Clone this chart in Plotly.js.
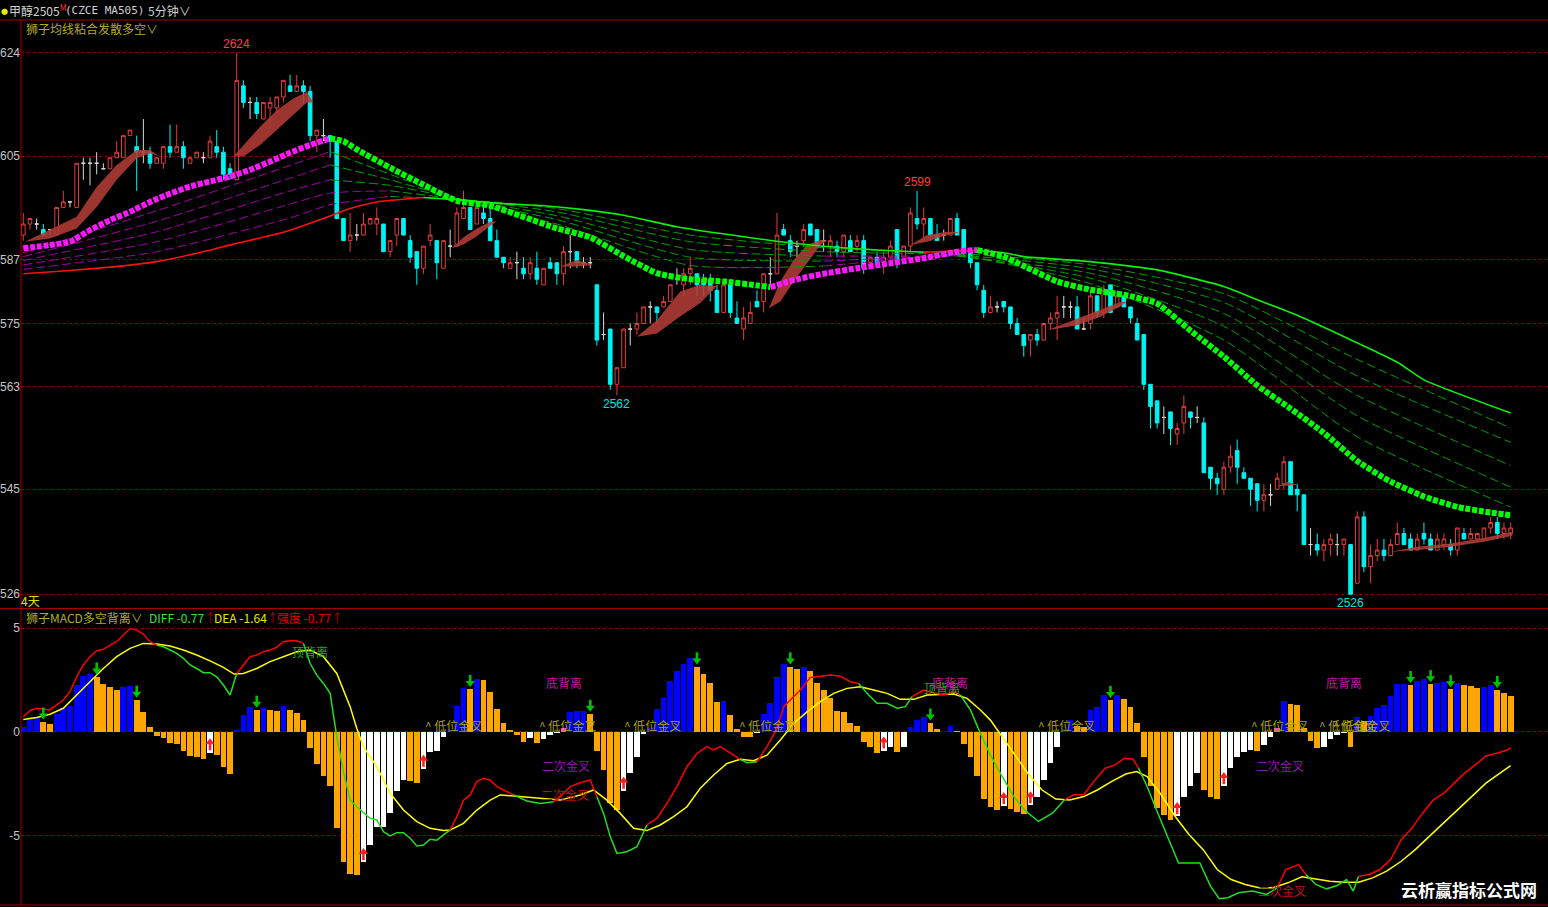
<!DOCTYPE html>
<html><head><meta charset="utf-8">
<script src="https://cdn.plot.ly/plotly-3.0.1.min.js"></script>
<style>html,body{margin:0;padding:0;background:#000;overflow:hidden}#chart{width:1548px;height:907px}</style>
</head><body><div id="chart"></div>
<script>
// ---------------- price data (5-minute candles, index 0..223) ----------------
const candleOpen = [
2591,2593,2593,2592,2592,2591,2596,2597,2596,2604,
2604,2604,2603,2603,2605,2605,2609,2607,2606,2606,
2604,2604,2607,2606,2607,2604,2605,2605,2605,2607,
2606,2603,2601,2618,2615,2615,2612,2614,2614,2616,
2618,2617,2618,2617,2609,2609,2609,2608,2594,2590,
2591,2591,2593,2593,2593,2588,2591,2594,2590,2588,
2585,2590,2590,2585,2589,2589,2594,2596,2593,2595,
2594,2590,2587,2585,2586,2585,2584,2585,2582,2586,
2586,2584,2588,2588,2586,2586,2582,2573,2574,2564,
2567,2574,2574,2575,2578,2578,2578,2579,2583,2582,
2584,2584,2583,2583,2581,2577,2582,2576,2574,2575,
2579,2579,2584,2584,2592,2590,2589,2590,2593,2592,
2590,2589,2589,2588,2590,2589,2590,2586,2587,2586,
2587,2592,2587,2589,2594,2593,2594,2591,2591,2591,
2594,2592,2588,2586,2581,2577,2578,2579,2578,2575,
2573,2572,2573,2572,2575,2576,2578,2578,2578,2574,
2575,2580,2577,2582,2578,2580,2578,2575,2573,2564,
2561,2558,2559,2555,2557,2559,2558,2557,2549,2547,
2545,2549,2552,2548,2547,2546,2543,2544,2545,2546,
2550,2545,2544,2535,2535,2534,2535,2535,2535,2535,
2528,2540,2531,2533,2534,2533,2535,2537,2536,2534,
2537,2536,2534,2535,2535,2534,2537,2536,2536,2536,
2538,2539,2537,2537];
const candleHigh = [
2595,2594,2594,2593,2592,2596,2599,2597,2604,2605,
2605,2606,2604,2605,2608,2609,2610,2609,2612,2607,
2605,2607,2611,2611,2608,2605,2606,2606,2609,2610,
2607,2604,2624,2619,2616,2616,2615,2616,2616,2619,
2620,2620,2619,2618,2610,2612,2609,2608,2594,2595,
2593,2595,2594,2596,2593,2590,2594,2594,2591,2588,
2589,2593,2590,2590,2592,2596,2599,2596,2597,2596,
2596,2592,2587,2587,2588,2587,2587,2588,2585,2587,
2586,2589,2591,2588,2587,2587,2582,2577,2574,2567,
2574,2575,2577,2578,2579,2578,2580,2582,2585,2585,
2587,2584,2584,2584,2582,2582,2582,2579,2578,2579,
2581,2584,2587,2595,2593,2591,2590,2593,2593,2592,
2592,2591,2590,2591,2591,2591,2591,2587,2588,2588,
2590,2592,2589,2596,2599,2596,2594,2593,2592,2594,
2595,2592,2588,2586,2582,2580,2579,2579,2578,2576,
2573,2573,2574,2575,2577,2580,2580,2579,2580,2576,
2581,2580,2582,2582,2581,2580,2578,2576,2573,2564,
2561,2560,2559,2557,2562,2559,2560,2558,2549,2548,
2550,2553,2554,2549,2547,2546,2546,2546,2548,2551,
2550,2546,2544,2538,2537,2536,2537,2537,2536,2535,
2541,2541,2535,2536,2536,2536,2539,2538,2537,2537,
2539,2537,2537,2537,2536,2538,2538,2538,2537,2538,
2540,2540,2539,2539];
const candleLow = [
2590,2592,2592,2591,2591,2591,2596,2596,2596,2601,
2600,2602,2603,2603,2605,2605,2609,2599,2604,2603,
2604,2603,2605,2606,2603,2604,2605,2604,2605,2605,
2601,2601,2601,2614,2612,2612,2612,2611,2613,2615,
2617,2617,2615,2608,2606,2608,2605,2594,2590,2588,
2590,2591,2593,2591,2588,2587,2589,2591,2586,2582,
2584,2589,2583,2585,2587,2589,2594,2592,2593,2593,
2590,2587,2585,2585,2583,2583,2583,2582,2582,2585,
2582,2582,2585,2585,2585,2585,2571,2572,2563,2562,
2567,2571,2573,2575,2575,2575,2578,2579,2582,2580,
2582,2580,2580,2579,2577,2577,2576,2575,2572,2575,
2578,2577,2582,2584,2591,2587,2587,2589,2591,2589,
2588,2587,2587,2587,2588,2588,2584,2586,2585,2584,
2587,2585,2587,2588,2592,2590,2590,2590,2590,2591,
2591,2587,2585,2581,2576,2577,2577,2577,2574,2573,
2569,2569,2571,2572,2574,2572,2576,2576,2574,2574,
2574,2576,2576,2577,2578,2578,2575,2572,2563,2556,
2556,2555,2553,2553,2555,2556,2557,2548,2545,2544,
2544,2548,2546,2547,2542,2541,2541,2542,2545,2545,
2544,2541,2535,2533,2533,2532,2533,2533,2533,2526,
2528,2530,2528,2532,2532,2533,2535,2535,2534,2534,
2535,2534,2534,2534,2533,2533,2536,2536,2536,2536,
2537,2536,2536,2536];
const candleClose = [
2593,2594,2593,2591,2592,2596,2597,2597,2604,2604,
2604,2604,2603,2605,2606,2609,2610,2606,2606,2604,
2605,2607,2606,2607,2605,2605,2606,2605,2608,2606,
2602,2602,2619,2615,2615,2613,2615,2615,2616,2619,
2617,2618,2617,2609,2610,2609,2608,2594,2590,2591,
2591,2593,2594,2594,2588,2590,2594,2591,2587,2585,
2589,2591,2586,2590,2589,2595,2596,2592,2596,2594,
2590,2587,2586,2586,2586,2584,2586,2583,2585,2585,
2584,2588,2588,2586,2586,2586,2572,2573,2564,2567,
2574,2574,2575,2578,2578,2577,2579,2582,2583,2584,
2585,2582,2582,2581,2577,2582,2577,2575,2576,2577,
2578,2584,2584,2591,2591,2588,2589,2592,2591,2589,
2590,2590,2588,2591,2588,2590,2585,2587,2586,2587,
2589,2586,2589,2595,2593,2594,2591,2590,2591,2594,
2591,2588,2586,2582,2577,2578,2578,2578,2575,2573,
2571,2573,2572,2575,2576,2577,2578,2578,2574,2574,
2580,2577,2581,2577,2580,2578,2576,2572,2564,2560,
2557,2558,2556,2556,2560,2558,2558,2548,2547,2546,
2549,2551,2549,2547,2545,2543,2544,2544,2547,2550,
2544,2544,2535,2535,2534,2535,2536,2535,2536,2526,
2540,2531,2533,2534,2533,2535,2537,2535,2534,2536,
2536,2534,2536,2536,2534,2538,2536,2537,2537,2538,
2539,2537,2538,2538];

// price-axis labels
const mainTickVals = [2624, 2605.3, 2586.6, 2575, 2563.6, 2545, 2526];
const mainTickText = ['2624', '2605', '2587', '2575', '2563', '2545', '2526'];

// ---------------- moving-average ribbon (read at anchor candles) ----------------
const thickX = [0,4,7,10,13,16,19,22,25,28,31,34,37,40,43,46,48,50,55,60,65,70,75,80,85,90,95,100,105,110,112,116,120,125,130,135,140,143,147,150,155,160,165,170,175,180,185,190,195,200,205,210,215,220,223];
const thickY = [2588.6,2589.2,2589.8,2591.9,2593.7,2595.2,2597.0,2598.5,2599.8,2600.7,2601.6,2602.8,2604.3,2605.9,2607.3,2608.5,2608.0,2606.5,2603.2,2600.1,2597.2,2596.3,2594.3,2592.2,2590.6,2587.2,2584.1,2583.0,2582.6,2581.9,2581.6,2583.0,2584.0,2585.0,2585.9,2586.8,2588.0,2588.3,2587.1,2585.4,2582.6,2581.1,2580.2,2578.6,2573.7,2569.0,2563.8,2559.6,2555.2,2550.1,2546.4,2543.7,2541.8,2540.8,2540.3];
const outerX = [0,7,13,20,26,32,39,45,49,53,60,66,72,78,84,90,98,108,118,128,135,139,143,147,150,160,170,180,185,191,206,210,223];
const outerY = [2584.0,2584.6,2585.2,2586.2,2587.7,2589.5,2591.5,2594.0,2595.8,2597.0,2597.8,2597.3,2596.7,2596.3,2595.6,2594.6,2592.5,2590.7,2589.2,2588.3,2587.9,2588.1,2588.2,2587.8,2587.1,2586.2,2584.7,2581.7,2579.3,2576.5,2568.0,2564.8,2558.8];
const ribbonX = [0,20,40,46,55,66,80,100,120,140,160,180,200,223];
const ribbon1 = [2587.8,2595.4,2603.6,2606.1,2602.0,2597.2,2593.0,2585.5,2585.4,2587.6,2582.2,2572.0,2554.5,2541.8];
const ribbon2 = [2587.1,2593.5,2601.3,2603.7,2601.0,2597.3,2593.8,2587.0,2586.3,2587.3,2583.2,2574.5,2558.3,2545.4];
const ribbon3 = [2586.4,2591.6,2599.0,2601.0,2600.0,2597.4,2594.5,2588.4,2587.2,2587.2,2584.1,2576.8,2562.0,2549.3];
const ribbon4 = [2585.6,2589.8,2596.6,2598.6,2599.0,2597.4,2595.2,2589.8,2588.0,2587.4,2584.9,2578.8,2565.5,2553.5];
const ribbon5 = [2584.8,2588.0,2594.1,2596.5,2598.0,2597.4,2595.8,2591.0,2588.7,2587.7,2585.6,2580.4,2568.5,2556.1];

// red bands between the two fast averages
const bandX = [
 [0.25,4,8,11,14,17,19,20.5],
 [31.5,33,35.5,38,40.5,42.5,43.5],
 [64.25,66,68,70,71],
 [80.5,83,85.5],
 [92,95,98.5,101.5,104],
 [111.75,113.5,115.5,117.5,119.5,120.5],
 [133,135.5,138.5,140.5],
 [153.5,158,161.5,164.5,165.5],
 [188,189.5,191],
 [205,209,214,219,223.25]];
const bandUp = [
 [2589.8,2592.0,2594.3,2599.7,2603.7,2606.4,2606.4,2605.2],
 [2605.2,2607.3,2610.6,2613.6,2615.7,2616.9,2615.0],
 [2588.6,2590.6,2592.2,2593.4,2593.5],
 [2585.3,2586.5,2585.6],
 [2572.6,2575.6,2580.8,2582.0,2581.8],
 [2577.7,2582.6,2586.5,2589.2,2590.1,2590.0],
 [2589.2,2591.0,2591.6,2591.5],
 [2573.8,2575.9,2577.4,2578.9,2579.0],
 [2545.5,2546.3,2545.8],
 [2533.7,2534.6,2535.2,2536.2,2537.3]];
const bandLo = [
 [2589.8,2590.4,2592.2,2596.1,2601.0,2604.9,2605.8,2605.2],
 [2605.2,2605.2,2607.3,2610.0,2612.7,2615.0,2615.0],
 [2588.6,2589.3,2590.8,2592.7,2593.5],
 [2585.3,2585.3,2585.6],
 [2572.6,2573.2,2576.3,2578.7,2581.8],
 [2577.7,2579.0,2582.6,2585.9,2589.2,2590.0],
 [2589.2,2589.8,2591.0,2591.5],
 [2573.8,2574.7,2576.2,2578.1,2579.0],
 [2545.5,2545.6,2545.8],
 [2533.7,2534.0,2534.6,2535.5,2536.6]];

// ---------------- MACD ----------------
const macdHist = [
0.24,0.69,0.72,0.48,0.37,0.84,1.13,1.24,2.25,2.70,
2.78,2.65,2.28,2.14,2.01,2.17,2.20,1.53,0.95,0.21,
-0.21,-0.29,-0.56,-0.59,-0.93,-1.16,-1.21,-1.33,-1.01,-1.13,
-1.69,-2.04,0.08,0.80,1.21,1.05,1.13,1.05,1.01,1.25,
1.05,0.92,0.56,-0.80,-1.56,-2.14,-2.60,-4.66,-6.30,-6.86,
-6.91,-6.30,-5.47,-4.61,-4.58,-3.91,-2.86,-2.33,-2.38,-2.49,
-1.80,-0.96,-0.93,-0.24,0.10,1.24,2.09,2.05,2.52,2.48,
1.93,1.08,0.43,0.08,-0.16,-0.48,-0.32,-0.53,-0.35,-0.16,
-0.08,0.20,0.97,1.00,1.02,0.85,-0.93,-1.85,-3.46,-3.78,
-2.86,-2.01,-1.21,-0.11,0.16,1.08,1.61,2.44,2.94,3.26,
3.54,3.14,2.78,2.33,1.45,1.48,0.80,0.11,-0.24,-0.27,
-0.08,0.85,1.40,2.62,3.26,3.14,3.01,3.14,2.94,2.36,
2.01,1.64,1.01,0.96,0.40,0.27,-0.51,-0.76,-1.05,-0.92,
-0.72,-1.00,-0.72,0.24,0.56,0.69,0.43,0.11,-0.03,0.27,
0.05,-0.59,-1.21,-2.12,-3.25,-3.65,-3.78,-3.60,-3.73,-3.85,
-3.96,-3.56,-3.16,-2.32,-1.52,-0.72,0.15,0.56,0.27,0.25,
1.07,1.20,1.76,1.52,1.79,1.60,1.20,0.40,-1.20,-2.60,
-3.69,-4.00,-4.25,-4.09,-3.13,-2.60,-2.00,-2.80,-3.13,-3.25,
-2.64,-1.73,-1.20,-0.96,-0.88,-0.93,-0.64,-0.27,0.20,1.47,
1.33,1.28,0.16,-0.45,-0.80,-0.75,-0.37,-0.16,-0.05,-0.72,
0.72,0.53,0.75,1.12,1.28,1.71,2.28,2.32,2.24,2.44,
2.52,2.28,2.36,2.38,2.04,2.36,2.24,2.20,2.13,2.16,
2.24,2.00,1.89,1.71];
const pinkBars = [81, 188];
const greenArrowIdx = [3,11,17,35,67,85,101,115,136,163,208,211,214,221];
const redArrowIdx = [28,51,60,90,129,147,151,173,180];

const diffX = [0,1,2,4,6,7,8,9,10,11,12,13,14,15,16,17,18,19,20,21,22,23,24,25,26,27,28,29,30,31,32,33,34,35,36,37,38,39,40,41,42,43,44,45,46,47,48,49,50,51,52,53,54,55,56,57,58,59,60,61,62,63,64,65,66,67,68,69,70,71,
73.5,75.5,77.5,79.5,80.75,82,83.5,85,86,87,88,89,90.5,92,93.5,95,96.5,98,99.5,101,102.5,103.5,104.5,106.5,107.5,108.5,110,111.5,113,114,115,116.5,118,119.5,121,122.5,124,125.25,126.5,128,129.5,131,132.25,133.25,135,136.5,138,139.5,140.5,142,143.5,145,146.5,148.5,150.1,152.2,154.3,156.1,157.5,159,160.3,162.2,163.7,165.1,166.4,167.2,168.5,170.1,171.7,173.2,174.8,176.4,178,179.3,180.6,182.2,184.3,186.4,188,189.3,191.2,192.3,193.8,195.4,197,198.4,199.4,200.2,201.8,203.4,205,206.6,208.2,209.8,211.4,213,214.5,216.1,217.7,219.3,220.9,222.5,223];
const diffY = [0.72,1.01,1.13,1.05,1.53,1.93,2.65,3.22,3.62,3.91,3.97,4.18,4.34,4.66,4.98,4.90,4.71,4.34,4.18,4.10,3.94,3.78,3.54,3.22,3.05,2.85,2.85,2.65,2.25,1.77,2.81,3.22,3.62,3.70,3.86,3.94,4.07,4.34,4.39,4.39,4.26,3.30,2.73,2.33,1.85,-0.24,-1.93,-3.30,-3.62,-3.91,-4.18,-4.26,-4.82,-5.03,-4.87,-4.87,-5.14,-5.51,-5.47,-5.19,-5.23,-4.98,-4.74,-4.10,-3.30,-3.05,-2.41,-2.25,-2.33,-2.65,
-3.05,-3.34,-3.46,-3.38,-3.05,-2.65,-2.46,-2.33,-3.14,-3.94,-5.06,-5.87,-5.79,-5.55,-4.50,-4.18,-3.46,-2.65,-1.69,-1.05,-0.72,-0.88,-0.72,-1.13,-1.33,-1.50,-1.45,-0.72,0.16,1.21,1.53,2.01,2.62,2.68,2.73,2.68,2.41,2.33,1.85,1.37,1.37,1.13,1.21,1.69,2.01,1.88,1.77,1.93,1.77,1.05,-0.08,-1.13,-2.01,-3.13,-3.77,-4.33,-3.93,-3.29,-3.04,-3.04,-2.48,-1.76,-1.60,-1.28,-1.33,-1.76,-2.64,-3.93,-5.21,-6.33,-6.33,-6.33,-7.45,-8.06,-8.01,-7.77,-7.69,-7.85,-7.53,-6.65,-6.41,-6.89,-7.37,-7.58,-7.42,-7.13,-7.69,-6.97,-6.89,-6.65,-6.17,-5.21,-4.65,-3.93,-3.29,-2.96,-2.48,-2.00,-1.60,-1.17,-1.04,-0.88,-0.77];
const deaX = [0,2,4,6,8,10,12,14,16,18,20,22,24,26,28,30,31.6,33,35,37,39,41,43,45,47,49,50,51,53,55,57,59,61,63,64,66,68,70,71.5,74.5,77.5,80.5,83.5,85.5,87.5,89.5,91.5,93.5,95.5,97.5,99.5,101.5,103.5,105.5,107.5,109.5,111.5,113.5,115.5,117.5,119.5,121.5,123.5,125.5,127.5,129.5,131.5,133.5,135.5,137.5,139.5,141.5,143.5,145,146.5,148.5,150.6,152.7,154.8,156.9,159,161.1,163.2,165.3,166.9,168.5,170.6,172.7,174.8,176.9,179,181.1,183.2,185.3,187.4,189.6,191.7,193.8,195.9,198,200.2,202.3,204.4,206.6,208.7,210.8,212.9,215,217.1,219.3,221.4,223];
const deaY = [0.59,0.69,0.84,1.13,1.77,2.41,3.05,3.62,4.02,4.26,4.23,4.13,3.94,3.70,3.42,3.10,2.78,2.81,3.05,3.38,3.62,3.86,3.94,3.62,2.81,1.21,0.16,-0.72,-1.69,-2.97,-3.78,-4.34,-4.66,-4.77,-4.74,-4.42,-3.78,-3.30,-3.05,-3.14,-3.22,-3.30,-3.05,-2.81,-3.30,-3.94,-4.66,-4.77,-4.50,-4.10,-3.62,-2.73,-2.09,-1.53,-1.33,-1.40,-1.13,-0.40,0.40,0.96,1.45,1.85,2.09,2.17,2.01,1.85,1.56,1.56,1.77,1.80,1.82,1.61,1.05,0.56,-0.15,-1.04,-2.00,-2.80,-3.25,-3.29,-3.13,-2.80,-2.40,-2.04,-1.92,-2.16,-3.04,-4.09,-4.97,-5.69,-6.65,-7.13,-7.37,-7.53,-7.53,-7.29,-7.00,-7.10,-7.21,-7.26,-7.26,-7.05,-6.73,-6.25,-5.69,-5.05,-4.41,-3.77,-3.13,-2.48,-2.00,-1.64];

// MACD panel text signals
const lowGoldX = [59.9, 77.0, 89.8, 107.0, 151.8, 183.8, 194.0, 196.1];
const macdLabelText = ['顶背离','顶背离','底背离','底背离','底背离','二次金叉','二次金叉','二次金叉','二次金叉'];
const macdLabelX = [43.0, 137.7, 81.1, 139.0, 198.0, 81.4, 188.4, 81.2, 188.7];
const macdLabelY = [3.89, 2.11, 2.35, 2.35, 2.35, -1.65, -1.65, -3.05, -7.64];
const macdLabelColor = ['#22a822','#22a822','#c0189c','#c0189c','#c0189c','#8a1ca8','#8a1ca8','#c01010','#c01010'];

// ---------------- build ----------------
const N = candleOpen.length;
const traces = [];

function segByDir(xs, ys) {
  const segs = []; let cur = null;
  for (let k = 1; k < xs.length; k++) {
    const rising = ys[k] >= ys[k-1];
    if (!cur || cur.rising !== rising) { cur = {rising, x:[xs[k-1]], y:[ys[k-1]]}; segs.push(cur); }
    cur.x.push(xs[k]); cur.y.push(ys[k]);
  }
  return segs;
}
function interp(xs, ys, x) {
  if (x <= xs[0]) return ys[0];
  for (let k = 1; k < xs.length; k++) {
    if (x <= xs[k]) { const t = (x - xs[k-1]) / (xs[k] - xs[k-1]); return ys[k-1] + t * (ys[k] - ys[k-1]); }
  }
  return ys[ys.length-1];
}

// red bands
{
  const bx = [], by = [];
  for (let b = 0; b < bandX.length; b++) {
    const xs = bandX[b], up = bandUp[b], lo = bandLo[b];
    for (let k = 0; k < xs.length; k++) { bx.push(xs[k]); by.push(up[k]); }
    for (let k = xs.length - 1; k >= 0; k--) { bx.push(xs[k]); by.push(lo[k]); }
    bx.push(null); by.push(null);
  }
  traces.push({type:'scatter', mode:'lines', x:bx, y:by, fill:'toself', fillcolor:'rgba(178,60,55,0.88)', line:{width:0, color:'rgba(0,0,0,0)'}, xaxis:'x', yaxis:'y', hoverinfo:'skip'});
}

// ribbon dashed lines
[ribbon5, ribbon4, ribbon3, ribbon2, ribbon1].forEach(r => {
  segByDir(ribbonX, r).forEach(s => traces.push({type:'scatter', mode:'lines', x:s.x, y:s.y, xaxis:'x', yaxis:'y',
    line:{color: s.rising ? '#a400a4' : '#00a000', width:1, dash:'9px,4px', shape:'spline', smoothing:0.6}, hoverinfo:'skip'}));
});
// outer slow line
segByDir(outerX, outerY).forEach(s => traces.push({type:'scatter', mode:'lines', x:s.x, y:s.y, xaxis:'x', yaxis:'y',
  line:{color: s.rising ? '#ff1010' : '#10f010', width:1.6, shape:'spline', smoothing:0.5}, hoverinfo:'skip'}));
// thick square line
segByDir(thickX, thickY).forEach(s => traces.push({type:'scatter', mode:'lines', x:s.x, y:s.y, xaxis:'x', yaxis:'y',
  line:{color: s.rising ? '#ff18ff' : '#00ff00', width:6, dash:'5px,1.7px', shape:'spline', smoothing:0.5}, hoverinfo:'skip'}));

// candles
{
  const c = {x:[],o:[],h:[],l:[],c:[]}, d = {x:[],o:[],h:[],l:[],c:[]};
  for (let i = 0; i < N; i++) {
    const t = candleOpen[i] === candleClose[i] ? d : c;
    t.x.push(i); t.o.push(candleOpen[i]); t.h.push(candleHigh[i]); t.l.push(candleLow[i]); t.c.push(candleClose[i]);
  }
  traces.push({type:'candlestick', x:c.x, open:c.o, high:c.h, low:c.l, close:c.c, xaxis:'x', yaxis:'y', whiskerwidth:0,
    increasing:{line:{color:'#e23c3c', width:1}, fillcolor:'#000000'},
    decreasing:{line:{color:'#00f2f2', width:1}, fillcolor:'#00f2f2'}, hoverinfo:'skip'});
  traces.push({type:'candlestick', x:d.x, open:d.o, high:d.h, low:d.l, close:d.c, xaxis:'x', yaxis:'y', whiskerwidth:0,
    increasing:{line:{color:'#d8d8d8', width:1}, fillcolor:'#d8d8d8'},
    decreasing:{line:{color:'#d8d8d8', width:1}, fillcolor:'#d8d8d8'}, hoverinfo:'skip'});
}

// MACD histogram
{
  const xs = [], cols = [];
  for (let i = 0; i < N; i++) {
    xs.push(i);
    const v = macdHist[i], p = i > 0 ? macdHist[i-1] : -Infinity;
    let col;
    if (v >= 0) col = v > p ? '#0000ff' : '#ffa500';
    else col = v > p ? '#ffffff' : '#ffa500';
    if (pinkBars.includes(i)) col = '#ff40ff';
    cols.push(col);
  }
  traces.push({type:'bar', x:xs, y:macdHist, xaxis:'x2', yaxis:'y2', width:0.86, marker:{color:cols, line:{width:0}}, hoverinfo:'skip'});
}
// DEA
traces.push({type:'scatter', mode:'lines', x:deaX, y:deaY, xaxis:'x2', yaxis:'y2', line:{color:'#ffff00', width:1.5}, hoverinfo:'skip'});
// DIFF coloured by its position against DEA
{
  const segs = []; let cur = null;
  for (let k = 1; k < diffX.length; k++) {
    const mx = (diffX[k-1] + diffX[k]) / 2, my = (diffY[k-1] + diffY[k]) / 2;
    const red = my >= interp(deaX, deaY, mx);
    if (!cur || cur.red !== red) { cur = {red, x:[diffX[k-1]], y:[diffY[k-1]]}; segs.push(cur); }
    cur.x.push(diffX[k]); cur.y.push(diffY[k]);
  }
  segs.forEach(s => traces.push({type:'scatter', mode:'lines', x:s.x, y:s.y, xaxis:'x2', yaxis:'y2',
    line:{color: s.red ? '#ff0000' : '#22dd22', width:1.5}, hoverinfo:'skip'}));
}
// arrows
{
  const gH = greenArrowIdx.map(i => macdHist[i] + 0.30), gS = greenArrowIdx.map(i => macdHist[i] + 0.52);
  const rH = redArrowIdx.map(i => macdHist[i] + 0.50), rS = redArrowIdx.map(i => macdHist[i] + 0.28);
  traces.push({type:'scatter', mode:'markers', x:greenArrowIdx, y:gS, xaxis:'x2', yaxis:'y2', marker:{symbol:'line-ns', size:5, line:{width:2.6, color:'#00c000'}}, hoverinfo:'skip'});
  traces.push({type:'scatter', mode:'markers', x:greenArrowIdx, y:gH, xaxis:'x2', yaxis:'y2', marker:{symbol:'triangle-down', size:8, color:'#00c000'}, hoverinfo:'skip'});
  traces.push({type:'scatter', mode:'markers', x:redArrowIdx, y:rS, xaxis:'x2', yaxis:'y2', marker:{symbol:'line-ns', size:5, line:{width:2.6, color:'#ff2020'}}, hoverinfo:'skip'});
  traces.push({type:'scatter', mode:'markers', x:redArrowIdx, y:rH, xaxis:'x2', yaxis:'y2', marker:{symbol:'triangle-up', size:8, color:'#ff2020'}, hoverinfo:'skip'});
}

// ---------------- annotations ----------------
const W = 1527, H = 885;
const px = v => (v - 21) / W, py = v => (905 - v) / H;
const cjk = 'Noto Sans CJK SC, sans-serif';
const ann = [];
function pAnn(x, y, text, color, size, extra) {
  ann.push(Object.assign({xref:'paper', yref:'paper', x:px(x), y:py(y), xanchor:'left', yanchor:'middle', text,
    showarrow:false, font:{family:cjk, size:size || 12, color}}, extra || {}));
}
pAnn(-1, 11, '●', '#e8e800', 7);
pAnn(7, 10.5, '甲醇2505<sup><span style="color:#ff3030">M</span></sup>', '#d0d0d0', 12);
pAnn(63, 10.5, '(CZCE MA505)', '#d0d0d0', 11, {font:{family:'DejaVu Sans Mono, monospace', size:11, color:'#d0d0d0'}});
pAnn(146, 10.5, '5分钟∨', '#d0d0d0', 12);
pAnn(24, 28, '狮子均线粘合发散多空∨', '#b4ac20', 12);
pAnn(19, 600, '4天', '#e0e000', 12);
pAnn(24, 617, '狮子MACD多空背离∨', '#b4ac20', 12);
pAnn(147, 617, 'DIFF -0.77<span style="color:#b00000">↑</span>', '#3ce03c', 12);
pAnn(212, 617, 'DEA -1.64<span style="color:#b00000">↑</span>', '#e8e800', 12);
pAnn(275, 617, '强度 -0.77<span style="color:#b00000">↑</span>', '#e00000', 12);
pAnn(1399, 889, '云析赢指标公式网', '#ffffff', 17, {font:{family:cjk, size:17, color:'#ffffff', weight:700}});

// high / low marks on the price panel
{
  let hiI = 0, loI = 0;
  for (let i = 0; i < N; i++) { if (candleHigh[i] > candleHigh[hiI]) hiI = i; if (candleLow[i] < candleLow[loI]) loI = i; }
  const marks = [[hiI, true], [134, true], [89, false], [loI, false]];
  marks.forEach(([i, hi]) => ann.push({xref:'x', yref:'y', x:i, y: hi ? candleHigh[i] : candleLow[i], yanchor: hi ? 'bottom' : 'top',
    xanchor:'center', text: String(hi ? candleHigh[i] : candleLow[i]), showarrow:false,
    font:{family:'Liberation Sans, Arial', size:12, color: hi ? '#ff3c3c' : '#00e0e0'}}));
}
lowGoldX.forEach(x => ann.push({xref:'x2', yref:'y2', x, y:0.32, xanchor:'left', yanchor:'middle', text:'^ 低位金叉', showarrow:false,
  font:{family:cjk, size:12, color:'#aaa200'}}));
macdLabelText.forEach((t, k) => ann.push({xref:'x2', yref:'y2', x:macdLabelX[k], y:macdLabelY[k], xanchor:'center', yanchor:'middle',
  text:t, showarrow:false, font:{family:cjk, size:12, color:macdLabelColor[k]}}));

const frame = '#a00000';
const layout = {
  width:1548, height:907, paper_bgcolor:'#000', plot_bgcolor:'#000',
  margin:{l:21, r:0, t:20, b:2, pad:0}, showlegend:false, hovermode:false, dragmode:false,
  boxgap:0.22,
  xaxis:{domain:[0,1], range:[-0.345, 228.6], anchor:'y', showticklabels:false, showgrid:false, zeroline:false, showline:false, ticks:'', rangeslider:{visible:false}, fixedrange:true},
  yaxis:{domain:[0.3356, 1], range:[2523.52, 2629.92], anchor:'x', tickmode:'array', tickvals:mainTickVals, ticktext:mainTickText,
    showgrid:true, gridcolor:'#8a0000', griddash:'dot', gridwidth:1, zeroline:false, showline:false, ticks:'',
    tickfont:{family:'Liberation Sans, Arial', size:12, color:'#c4c4c4'}, fixedrange:true},
  xaxis2:{domain:[0,1], range:[-0.345, 228.6], anchor:'y2', showticklabels:false, showgrid:false, zeroline:false, showline:false, ticks:'', fixedrange:true},
  yaxis2:{domain:[0, 0.3333], range:[-8.36, 5.87], anchor:'x2', tickmode:'array', tickvals:[5,0,-5], ticktext:['5','0','-5'],
    showgrid:true, gridcolor:'#8a0000', griddash:'dot', gridwidth:1, zeroline:false, showline:false, ticks:'',
    tickfont:{family:'Liberation Sans, Arial', size:12, color:'#c4c4c4'}, fixedrange:true},
  bargap:0,
  shapes:[
    {type:'line', xref:'paper', yref:'paper', x0:-21/W, x1:1, y0:1, y1:1, line:{color:frame, width:1}},
    {type:'line', xref:'paper', yref:'paper', x0:0, x1:0, y0:0, y1:1, line:{color:frame, width:1}},
    {type:'line', xref:'paper', yref:'paper', x0:-21/W, x1:1, y0:py(608.5), y1:py(608.5), line:{color:frame, width:1}},
    {type:'line', xref:'paper', yref:'paper', x0:-21/W, x1:1, y0:0, y1:0, line:{color:frame, width:1}}
  ],
  annotations:ann
};
Plotly.newPlot('chart', traces, layout, {staticPlot:true, displayModeBar:false});
</script></body></html>
